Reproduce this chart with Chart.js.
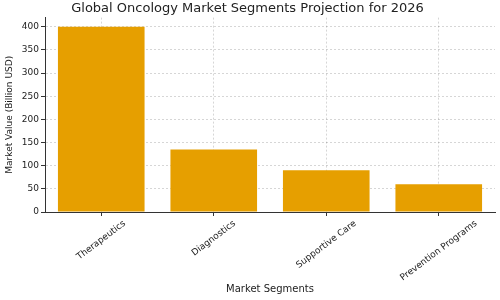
<!DOCTYPE html>
<html>
<head>
<meta charset="utf-8">
<script src="https://cdn.jsdelivr.net/npm/chart.js@4/dist/chart.umd.min.js"></script>
<style>
html,body{margin:0;padding:0;background:#fff;}
#wrap{width:500px;height:300px;}
</style>
</head>
<body>
<div id="wrap"><canvas id="chart" width="500" height="300"></canvas></div>
<script>
const segments = ["Therapeutics","Diagnostics","Supportive Care","Prevention Programs"];
const marketValues = [400,135,90,60];
const yTicks = [0,50,100,150,200,250,300,350,400];

const FONT = "DejaVu Sans";

// x labels rotated around their centre, like matplotlib's rotation=45
const slantedLabels = {
id:"slantedLabels",
afterDraw(chart){
const sc = chart.scales.x;
const ctx = chart.ctx;
const a = 37*Math.PI/180;
ctx.save();
ctx.font = "9px " + FONT;
ctx.fillStyle = "#222";
ctx.textAlign = "center";
ctx.textBaseline = "middle";
segments.forEach((lab,i)=>{
const w = ctx.measureText(lab).width;
const x = sc.getPixelForValue(i);
const y = sc.top + 7 + (w*Math.sin(a) + 9*Math.cos(a))/2;
ctx.save();
ctx.translate(x,y);
ctx.rotate(-a);
ctx.fillText(lab,0,0);
ctx.restore();
});
ctx.restore();
}
};

new Chart(document.getElementById("chart"),{
type:"bar",
data:{
labels:segments,
datasets:[{
label:"Market Value",
data:marketValues,
backgroundColor:"#E69F00",
borderWidth:0,
barPercentage:0.77,
categoryPercentage:1
}]
},
plugins:[slantedLabels],
options:{
responsive:false,
animation:false,
layout:{padding:{top:0,right:5,bottom:0,left:0}},
plugins:{
legend:{display:false},
tooltip:{enabled:false},
title:{
display:true,
text:"Global Oncology Market Segments Projection for 2026",
color:"#222",
font:{family:FONT,size:13,weight:"normal"},
padding:{top:1,bottom:1}
}
},
scales:{
x:{
offset:true,
afterFit:s=>{s.height=88;},
grid:{color:"rgba(0,0,0,0.16)",tickColor:"#333",tickBorderDash:[],tickLength:4,offset:false},
border:{color:"#333",width:1,dash:[2,2]},
ticks:{display:false},
title:{display:true,text:"Market Segments",color:"#222",font:{family:FONT,size:10},padding:{top:4,bottom:5}}
},
y:{
min:0,max:420,
afterFit:s=>{s.width=45;},
afterBuildTicks:s=>{s.ticks = yTicks.map(v=>({value:v}));},
grid:{color:"rgba(0,0,0,0.16)",tickColor:"#333",tickBorderDash:[],tickLength:4},
border:{color:"#333",width:1,dash:[2,2]},
ticks:{color:"#222",font:{family:FONT,size:9},padding:2},
title:{display:true,text:"Market Value (Billion USD)",color:"#222",font:{family:FONT,size:9},padding:{top:4,bottom:2}}
}
}
}
});
</script>
</body>
</html>
